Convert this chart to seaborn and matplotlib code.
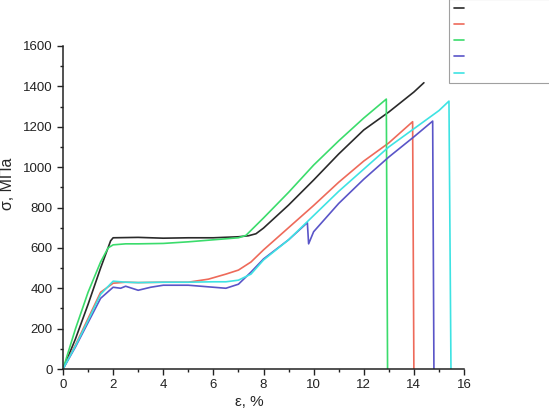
import numpy as np
import pandas as pd
import matplotlib.pyplot as plt
import seaborn as sns
from matplotlib.ticker import MultipleLocator

# strain, % and stress, MPa for each sample
eps_black = [0, 0.5, 1.0, 1.5, 1.9, 2.0, 3.0, 4.0, 5.0, 6.0, 7.0, 7.4, 7.7, 8.0, 9.0, 10.0, 11.0, 12.0, 13.0, 14.0, 14.4]
sig_black = [0, 150, 320, 500, 635, 650, 652, 648, 650, 650, 655, 660, 670, 698, 812, 936, 1065, 1184, 1273, 1372, 1418]

eps_red = [0, 0.5, 1.0, 1.5, 2.0, 2.5, 3.0, 4.0, 5.0, 5.8, 6.5, 7.0, 7.5, 8.0, 9.0, 10.0, 11.0, 12.0, 13.0, 13.95, 14.0]
sig_red = [0, 120, 250, 380, 425, 430, 428, 430, 430, 445, 470, 490, 530, 590, 700, 810, 925, 1030, 1120, 1225, 0]

eps_green = [0, 0.5, 1.0, 1.5, 1.8, 2.0, 2.5, 3.0, 4.0, 5.0, 6.0, 7.0, 7.3, 8.0, 9.0, 10.0, 11.0, 12.0, 12.9, 12.95]
sig_green = [0, 200, 380, 530, 600, 615, 620, 620, 622, 630, 640, 650, 662, 748, 875, 1010, 1130, 1243, 1337, 0]

eps_blue = [0, 0.5, 1.0, 1.5, 2.0, 2.3, 2.5, 3.0, 3.5, 4.0, 5.0, 6.0, 6.5, 7.0, 7.5, 8.0, 9.0, 9.75, 9.8, 10.0, 11.0, 12.0, 13.0, 14.0, 14.75, 14.8]
sig_blue = [0, 110, 230, 350, 405, 400, 410, 390, 405, 415, 415, 405, 400, 420, 480, 545, 640, 725, 620, 680, 820, 940, 1050, 1150, 1228, 0]

eps_cyan = [0, 0.5, 1.0, 1.5, 2.0, 2.5, 3.0, 4.0, 5.0, 6.0, 6.5, 7.0, 7.5, 8.0, 9.0, 10.0, 11.0, 12.0, 13.0, 14.0, 15.0, 15.4, 15.48]
sig_cyan = [0, 115, 240, 370, 435, 430, 428, 430, 430, 432, 432, 440, 470, 540, 640, 760, 880, 990, 1100, 1190, 1280, 1327, 0]

samples = ['1', '2', '3', '4', '5']
colors = ['#2a2a2a', '#ee6a5a', '#3bdc6c', '#5a55c8', '#3ee3e3']

frames = []
for name, e, s in zip(samples,
                      [eps_black, eps_red, eps_green, eps_blue, eps_cyan],
                      [sig_black, sig_red, sig_green, sig_blue, sig_cyan]):
    frames.append(pd.DataFrame({'eps': e, 'sig': s, 'sample': name}))
df = pd.concat(frames, ignore_index=True)

sns.set_style('ticks')
plt.rcParams['font.family'] = ['Liberation Sans', 'DejaVu Sans']

fig = plt.figure(figsize=(5.49, 4.18), dpi=100)
ax = fig.add_axes([63 / 549, 1 - 369 / 418, (464 - 63) / 549, (369 - 46) / 418])

sns.lineplot(data=df, x='eps', y='sig', hue='sample', palette=colors, units='sample',
             estimator=None, sort=False, lw=1.2, legend=False, ax=ax)

ax.set_xlim(0, 16)
ax.set_ylim(0, 1600)
ax.xaxis.set_major_locator(MultipleLocator(2))
ax.xaxis.set_minor_locator(MultipleLocator(1))
ax.yaxis.set_major_locator(MultipleLocator(200))
ax.yaxis.set_minor_locator(MultipleLocator(100))
ax.tick_params(which='major', length=4, width=1, labelsize=9.5, direction='out', colors='#222222')
ax.tick_params(which='minor', length=2.5, width=1, direction='out', colors='#222222')
for side in ['left', 'bottom']:
    ax.spines[side].set_linewidth(1.1)
    ax.spines[side].set_color('#222222')
sns.despine(ax=ax)

ax.set_xlabel('ε, %', fontsize=11)
ax.set_ylabel('σ, МПа', fontsize=11.5)
ax.xaxis.set_label_coords(0.464, -0.08)
ax.yaxis.set_label_coords(-0.12, 0.573)

leg = ax.legend(ax.lines[:5], ['                              '] * 5, loc='upper left',
                bbox_to_anchor=(449 / 549, 1 + 1 / 418), bbox_transform=fig.transFigure,
                frameon=True, fancybox=False, handlelength=0.9, handletextpad=0.3,
                labelspacing=0.55, fontsize=8, borderpad=0.45, borderaxespad=0)
leg.get_frame().set_edgecolor('#888888')
leg.get_frame().set_linewidth(0.8)

fig.savefig('out.png', dpi=100)
